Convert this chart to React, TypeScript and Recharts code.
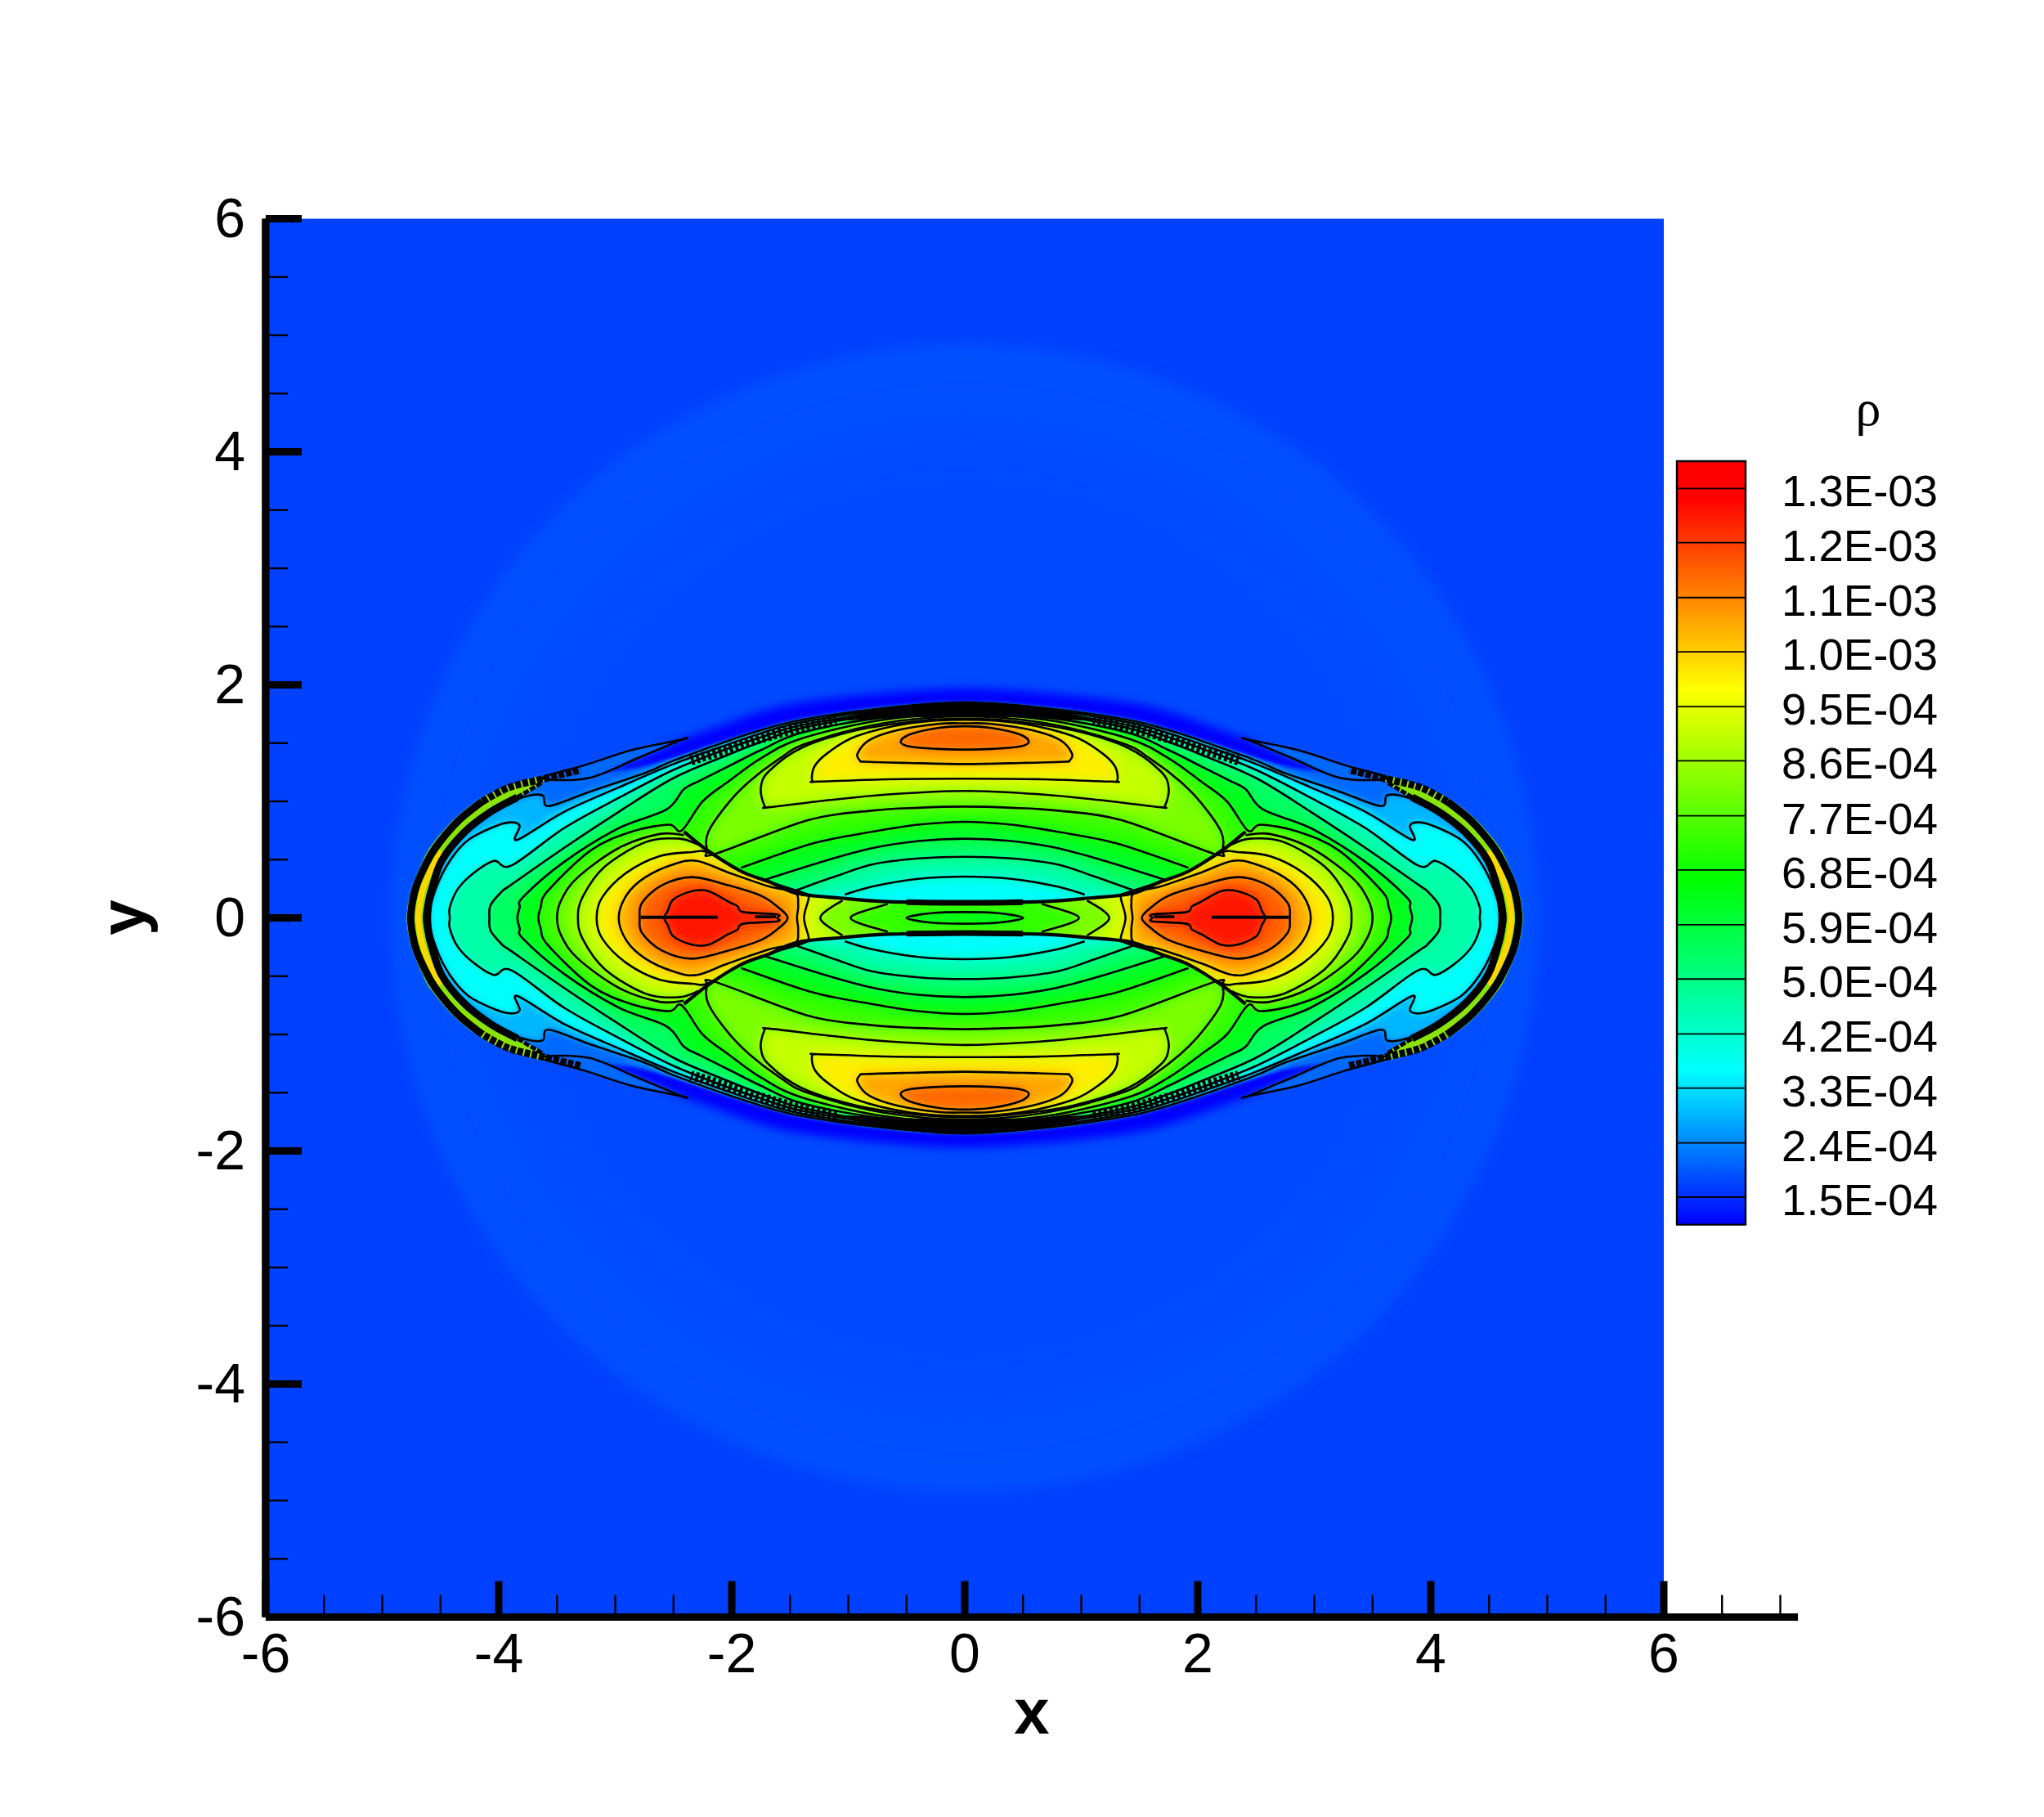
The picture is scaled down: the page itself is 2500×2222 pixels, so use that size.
import React from 'react';
import { ComposedChart, Scatter, XAxis, YAxis, Label, Bar, ReferenceLine } from 'recharts';

type Pt = { x: number; y: number };
type Q = number[][];

// ---- density, in units of 1e-4 ----
const legendLevels = [13.0, 12.12, 11.23, 10.35, 9.46, 8.58, 7.69, 6.81, 5.92, 5.04, 4.15, 3.27, 2.38, 1.5];
const legendLabels = ['1.3E-03', '1.2E-03', '1.1E-03', '1.0E-03', '9.5E-04', '8.6E-04', '7.7E-04', '6.8E-04', '5.9E-04', '5.0E-04', '4.2E-04', '3.3E-04', '2.4E-04', '1.5E-04'];
const legendRange = [1.054, 13.443];

const xTicks = [-6, -5.5, -5, -4.5, -4, -3.5, -3, -2.5, -2, -1.5, -1, -0.5, 0, 0.5, 1, 1.5, 2, 2.5, 3, 3.5, 4, 4.5, 5, 5.5, 6, 6.5, 7];
const yTicks = [-6, -5.5, -5, -4.5, -4, -3.5, -3, -2.5, -2, -1.5, -1, -0.5, 0, 0.5, 1, 1.5, 2, 2.5, 3, 3.5, 4, 4.5, 5, 5.5, 6];
const majorTicks = [-6, -4, -2, 0, 2, 4, 6];

// ---- field outlines: upper-left quadrant, the flow is symmetric about both axes ----
const frame: Q = [[-6, -6], [-6, 6], [6, 6], [6, -6]];
const xSpine: Q = [[-6, -6], [7.151, -6]];
const ySpine: Q = [[-6, -6], [-6, 6]];
const farRing: Q = [[-4.93, 0], [-4.55, 1.89], [-3.49, 3.49], [-1.89, 4.55], [0, 4.93]];
const midRing: Q = [[-4.2, 0], [-3.88, 1.61], [-2.97, 2.97], [-1.61, 3.88], [0, 4.2]];
const halo: Q = [[-3.1, 1.2], [-2.81, 1.36], [-2.46, 1.52], [-2.1, 1.65], [-1.75, 1.77], [-1.4, 1.85], [-0.7, 1.93], [0, 1.97], [0.7, 1.93], [1.4, 1.85], [1.75, 1.77], [2.1, 1.65], [2.46, 1.52], [2.81, 1.36], [3.1, 1.2], [0, 1.3]];
const outer: Q = [[-4.79, 0], [-4.775, 0.14], [-4.74, 0.28], [-4.67, 0.45], [-4.58, 0.62], [-4.37, 0.86], [-4.14, 1.035], [-3.91, 1.14], [-3.63, 1.22], [-3.25, 1.24], [-2.81, 1.29], [-2.46, 1.39], [-2.1, 1.51], [-1.75, 1.62], [-1.4, 1.71], [-0.7, 1.81], [0, 1.856]];
const wingShape: Q = [[-3.63, 1.2], [-3.25, 1.315], [-2.86, 1.44], [-2.43, 1.53], [-2.43, 1.53], [-2.81, 1.37], [-3.23, 1.2]];
const shellBand: Q = [[-4.79, 0], [-4.775, 0.14], [-4.74, 0.28], [-4.67, 0.45], [-4.58, 0.62], [-4.37, 0.86], [-4.14, 1.035], [-3.91, 1.14], [-3.63, 1.22], [-3.63, 1.15], [-3.84, 1.03], [-4.07, 0.9], [-4.3, 0.72], [-4.49, 0.48], [-4.58, 0.23], [-4.62, 0]];
const shellYellow: Q = [[-4.69, 0], [-4.675, 0.14], [-4.64, 0.28], [-4.57, 0.44], [-4.49, 0.57]];

const base24: Q = [[-4.59, 0], [-4.57, 0.19], [-4.53, 0.38], [-4.45, 0.54], [-4.3, 0.72], [-4.07, 0.9], [-3.84, 1.02], [-3.63, 1.055], [-3.57, 0.96], [-3.2, 1.09], [-2.74, 1.245], [-2.5, 1.35], [-2.03, 1.52], [-1.75, 1.61], [-1.4, 1.7], [-0.7, 1.8], [0, 1.85]];
const base33: Q = [[-4.6, 0], [-4.54, 0.25], [-4.42, 0.49], [-4.26, 0.67], [-4.02, 0.79], [-3.89, 0.82], [-3.82, 0.79], [-3.84, 0.67], [-3.44, 0.91], [-2.97, 1.12], [-2.5, 1.32], [-2.03, 1.49], [-1.75, 1.585], [-1.4, 1.68], [-0.7, 1.785], [0, 1.84]];
const base42: Q = [[-4.42, 0], [-4.42, 0.09], [-4.35, 0.25], [-4.21, 0.39], [-4.04, 0.49], [-3.89, 0.45], [-3.44, 0.77], [-2.97, 1.03], [-2.5, 1.27], [-2.03, 1.455], [-1.75, 1.55], [-1.4, 1.655], [-0.7, 1.765], [0, 1.825]];
const base50: Q = [[-4.08, 0], [-4.07, 0.11], [-3.97, 0.23], [-3.9, 0.28], [-3.44, 0.6], [-2.97, 0.91], [-2.5, 1.2], [-2.03, 1.4], [-1.75, 1.51], [-1.4, 1.63], [-0.7, 1.75], [0, 1.81]];
const base59: Q = [[-3.84, 0], [-3.82, 0.09], [-3.79, 0.18], [-3.44, 0.48], [-2.97, 0.77], [-2.56, 0.93], [-2.41, 1.105], [-2.27, 1.18], [-2.03, 1.3], [-1.75, 1.44], [-1.4, 1.59], [-0.7, 1.72], [0, 1.77]];
const base68: Q = [[-3.66, 0], [-3.64, 0.09], [-3.58, 0.23], [-3.21, 0.58], [-2.86, 0.74], [-2.54, 0.8], [-2.43, 0.75], [-2.25, 1.0], [-2.03, 1.17], [-1.75, 1.37], [-1.4, 1.54], [-0.7, 1.7], [0, 1.75]];

// upper cap: left half of each contour, from x=0 below round to x=0 above
const cap77: Q = [[0, 0.955], [-0.4, 0.945], [-0.8, 0.92], [-1.34, 0.84], [-2.14, 0.55], [-2.21, 0.58], [-2.2, 0.74], [-2.03, 0.985], [-1.85, 1.17], [-1.6, 1.36], [-1.35, 1.5], [-0.7, 1.67], [0, 1.73]];
const cap86: Q = [[0, 1.09], [-0.66, 1.06], [-1.17, 1.01], [-1.68, 0.95], [-1.72, 0.965], [-1.75, 1.12], [-1.68, 1.26], [-1.4, 1.46], [-0.93, 1.61], [-0.4, 1.69], [0, 1.71]];
const cap95: Q = [[0, 1.195], [-0.66, 1.19], [-1.26, 1.17], [-1.31, 1.18], [-1.29, 1.3], [-1.17, 1.42], [-0.93, 1.56], [-0.47, 1.67], [0, 1.7]];
const cap104: Q = [[0, 1.32], [-0.49, 1.33], [-0.85, 1.34], [-0.9, 1.35], [-0.92, 1.41], [-0.82, 1.525], [-0.58, 1.61], [-0.23, 1.665], [0, 1.67]];
const cap112: Q = [[0, 1.445], [-0.23, 1.45], [-0.47, 1.47], [-0.55, 1.51], [-0.47, 1.575], [-0.23, 1.63], [0, 1.645]];

// low-density bowl above the central slit: left half, from shock to x=0
const bowl68: Q = [[-1.92, 0.43], [-1.3, 0.64], [-0.79, 0.74], [-0.4, 0.8], [0, 0.825]];
const bowl59: Q = [[-1.71, 0.33], [-1.2, 0.49], [-0.79, 0.6], [-0.4, 0.66], [0, 0.68]];
const bowl50: Q = [[-1.44, 0.24], [-1.1, 0.36], [-0.79, 0.46], [-0.4, 0.51], [0, 0.525]];
const bowl42: Q = [[-1.03, 0.2], [-0.79, 0.27], [-0.4, 0.335], [0, 0.354]];

const shock: Q = [[-2.41, 0.74], [-2.21, 0.58], [-1.92, 0.4], [-1.68, 0.31], [-1.44, 0.21], [-1.07, 0.17], [-0.66, 0.14], [0, 0.13]];
const shockCore: Q = [[-0.5, 0.135], [0, 0.13], [0.5, 0.135]];

// lobe on the x axis: upper half of each contour
const lobe77: Q = [[-3.5, 0], [-3.46, 0.16], [-3.32, 0.35], [-2.97, 0.6], [-2.62, 0.72], [-2.41, 0.71]];
const lobe86: Q = [[-3.32, 0], [-3.28, 0.18], [-3.09, 0.44], [-2.74, 0.65], [-2.45, 0.68], [-2.29, 0.63]];
const lobe95: Q = [[-3.16, 0], [-3.11, 0.18], [-2.9, 0.39], [-2.62, 0.53], [-2.34, 0.565], [-2.2, 0.56], [-1.92, 0.4], [-1.68, 0.31], [-1.37, 0.21], [-1.34, 0.17], [-1.38, 0]];
const lobe104: Q = [[-2.97, 0], [-2.9, 0.2], [-2.74, 0.35], [-2.5, 0.46], [-2.3, 0.49], [-2.03, 0.39], [-1.68, 0.27], [-1.46, 0.22], [-1.43, 0.11], [-1.44, 0]];
const lobe112: Q = [[-2.79, 0], [-2.77, 0.13], [-2.6, 0.28], [-2.34, 0.35], [-2.03, 0.28], [-1.75, 0.19], [-1.6, 0.09], [-1.52, 0]];
const lobe121: Q = [[-2.58, 0], [-2.55, 0.06], [-2.5, 0.16], [-2.34, 0.23], [-2.2, 0.23], [-2.03, 0.14], [-1.95, 0.1], [-1.9, 0.05], [-1.61, 0.03], [-1.61, 0]];
const lobeTail: Q = [[-2.21, 0.58], [-1.9, 0.3], [-1.7, 0]];
const lobeSlit: Q = [[-2.78, 0.005], [-2.12, 0.005]];
const lobeSlitTip: Q = [[-1.8, 0.01], [-1.62, 0.01]];

// central lens between the two shocks
const lensBase: Q = [[-1.8, 0], [-1.8, 0.6], [0, 0.6]];
const lens86: Q = [[-1.24, 0], [-1.05, 0.15]];
const lens77: Q = [[-0.98, 0], [-0.66, 0.12]];
const lens68: Q = [[-0.5, 0], [-0.29, 0.04], [0, 0.05]];
const lensCover: Q = [[-0.5, 0.3], [0, 0.3]];

// bow shock outline, hatch and the trailing wing
const shellOuter: Q = [[-4.755, 0], [-4.74, 0.14], [-4.705, 0.28], [-4.635, 0.44], [-4.545, 0.6], [-4.35, 0.83], [-4.14, 1.0]];
const shellInner: Q = [[-4.62, 0], [-4.605, 0.12], [-4.58, 0.23], [-4.49, 0.49], [-4.3, 0.73], [-4.07, 0.91], [-3.84, 1.035]];
const shellHatch: Q = [[-4.14, 1.0], [-3.91, 1.12], [-3.63, 1.19], [-3.3, 1.27]];
const shellInnerTail: Q = [[-3.84, 1.035], [-3.63, 1.16]];
const topHatch: Q = [[-2.35, 1.35], [-2.03, 1.45], [-1.75, 1.54], [-1.4, 1.635], [-1.1, 1.69]];
const crest: Q = [[-1.1, 1.7], [-0.5, 1.72], [0, 1.725], [0.5, 1.72], [1.1, 1.7], [0.5, 1.825], [0, 1.84], [-0.5, 1.825]];
const clipMiddleEdge: Q = [[-5, 0], [-5, 1.0], [-2.7, 1.0]];
const clipCapEdge: Q = [[-2.25, 1.0], [-2.03, 1.17], [-1.75, 1.37], [-1.4, 1.56], [-0.7, 1.78], [0, 1.87]];

// ---- helpers ----
const mx = (q: Q): Q => q.map(([x, y]) => [-x, y]);
const fx = (q: Q): Q => mx(q).reverse();
const fy = (q: Q): Q => q.map(([x, y]) => [x, -y]).reverse();
const half = (q: Q): Q => [...q, ...fx(q).filter((p) => Math.abs(p[0]) > 1e-6)];
const loop = (q: Q): Q => {
  const top = half(q);
  return [...top, ...fy(top).filter((p) => Math.abs(p[1]) > 1e-6)];
};
const lobeClosed = (q: Q): Q => [...q, ...fy(q).filter((p) => Math.abs(p[1]) > 1e-6)];
const through = (q: Q): Q => [...fy(q), ...q.slice(1)];
const four = (q: Q): Q[] => [q, mx(q), fy(q), mx(fy(q))];
const toPts = (q: Q): Pt[] => q.map(([x, y]) => ({ x, y }));

const rainbow = (v: number) => {
  const stops: [number, number[]][] = [[1.06, [0, 0, 255]], [3.55, [0, 255, 255]], [6.67, [0, 255, 0]], [9.76, [255, 255, 0]], [12.86, [255, 0, 0]]];
  if (v <= stops[0][0]) return 'rgb(0,0,255)';
  for (let i = 1; i < stops.length; i++) {
    if (v <= stops[i][0]) {
      const t = (v - stops[i - 1][0]) / (stops[i][0] - stops[i - 1][0]);
      const c = stops[i - 1][1].map((a, k) => Math.round(a + (stops[i][1][k] - a) * t));
      return `rgb(${c.join(',')})`;
    }
  }
  return 'rgb(255,0,0)';
};

const smoothPath = (p: { x: number; y: number }[], closed: boolean, smooth = true) => {
  const n = p.length;
  if (!smooth) return `M${p.map((a) => `${a.x},${a.y}`).join('L')}${closed ? 'Z' : ''}`;
  const at = (i: number) => (closed ? p[(i + n) % n] : p[Math.max(0, Math.min(n - 1, i))]);
  let d = `M${p[0].x},${p[0].y}`;
  const last = closed ? n : n - 1;
  for (let i = 0; i < last; i++) {
    const a = at(i - 1), b = at(i), c = at(i + 1), e = at(i + 2);
    d += `C${b.x + (c.x - a.x) / 6},${b.y + (c.y - a.y) / 6} ${c.x - (e.x - b.x) / 6},${c.y - (e.y - b.y) / 6} ${c.x},${c.y}`;
  }
  return closed ? d + 'Z' : d;
};

type FillSpec = { q: Q; color: string; blur?: number; clip?: string; smooth?: boolean };
type LineSpec = { q: Q; width: number; closed?: boolean; color?: string; dash?: string };
type ClipSpec = { q: Q; id: string };

const fills: FillSpec[] = [];
const lines: LineSpec[] = [];
const addFill = (q: Q, v: number, blur: number, clip?: string) => fills.push({ q, color: rainbow(v), blur, clip });

fills.push({ q: frame, color: 'rgb(0,64,255)', smooth: false });
fills.push({ q: loop(farRing), color: 'rgb(0,80,255)', blur: 8 });
fills.push({ q: loop(midRing), color: 'rgb(0,74,255)', blur: 30 });
fills.push({ q: halo, color: 'rgb(0,5,255)', blur: 6 });
fills.push({ q: fy(halo), color: 'rgb(0,5,255)', blur: 6 });

for (const s of four(wingShape)) fills.push({ q: s, color: 'rgb(0,105,255)', blur: 2 });
fills.push({ q: loop(outer), color: 'rgb(0,105,255)', blur: 2 });
for (const s of four(shellBand)) fills.push({ q: s, color: 'rgb(140,230,0)', clip: 'clipOuter' });
const baseBands: [Q, number][] = [[base24, 2.85], [base33, 3.6], [base42, 4.6], [base50, 5.5], [base59, 6.35], [base68, 7.25]];
for (const [q, v] of baseBands) addFill(loop(q), v, 4, 'clipOuter');

const capBands: [Q, number, number][] = [[cap77, 8.15, 8], [cap86, 9.05, 8], [cap95, 9.95, 8], [cap104, 10.85, 7], [cap112, 11.6, 6]];
const bowlBands: [Q, number][] = [[bowl68, 6.35], [bowl59, 5.5], [bowl50, 4.6], [bowl42, 3.6]];
for (const [side, clip] of [[(q: Q) => q, 'clipCap'], [fy, 'clipCup']] as [(q: Q) => Q, string][]) {
  for (const [q, v, b] of capBands) addFill(side(half(q)), v, b, clip);
  for (const [q, v] of bowlBands) addFill(side([[-2.6, 0], ...half(q), [2.6, 0]]), v, 8, clip);
}

const middle = 'clipMiddle';
addFill(loop(lensBase), 9.1, 5, middle);
for (const side of [(q: Q) => q, fx]) {
  const lobeBands: [Q, number][] = [[lobe77, 8.15], [lobe86, 9.05]];
  for (const [q, v] of lobeBands) addFill(side(lobeClosed([...q, ...lobeTail])), v, 8, middle);
}
addFill(loop([...lens86, ...lensCover]), 8.15, 5, middle);
addFill(loop([...lens77, ...lensCover]), 7.25, 5, middle);
addFill(loop(lens68), 6.45, 3, middle);
for (const side of [(q: Q) => q, fx]) {
  const lobeBands: [Q, number, number][] = [[lobe95, 9.95, 8], [lobe104, 10.85, 8], [lobe112, 11.75, 8], [lobe121, 12.55, 6]];
  for (const [q, v, b] of lobeBands) addFill(side(lobeClosed(q)), v, b, middle);
}

const thin = 2.6;
for (const q of [base24, base33, base42, base50, base59, base68]) lines.push({ q: loop(q), width: thin, closed: true });
for (const q of [cap77, cap86, cap95, cap104, cap112]) {
  lines.push({ q: half(q), width: thin, closed: true });
  lines.push({ q: fy(half(q)), width: thin, closed: true });
}
for (const q of [bowl68, bowl59, bowl50, bowl42]) {
  lines.push({ q: half(q), width: thin });
  lines.push({ q: fy(half(q)), width: thin });
}
for (const q of [lobe95, lobe104, lobe112, lobe121]) {
  lines.push({ q: lobeClosed(q), width: thin, closed: true });
  lines.push({ q: fx(lobeClosed(q)), width: thin, closed: true });
}
for (const q of [lobe77, lobe86, lens86, lens77]) {
  lines.push({ q: through(q), width: thin });
  lines.push({ q: mx(through(q)), width: thin });
}
lines.push({ q: loop(lens68), width: thin, closed: true });
for (const s of [lobeSlit, mx(lobeSlit)]) lines.push({ q: s, width: 4 });
for (const s of [lobeSlitTip, mx(lobeSlitTip)]) lines.push({ q: s, width: 3.5 });
for (const s of four(shock)) lines.push({ q: s, width: 4.2 });
for (const s of [shockCore, fy(shockCore)]) lines.push({ q: s, width: 7 });
for (const s of [through(shellYellow), mx(through(shellYellow))]) lines.push({ q: s, width: 7, color: 'rgb(255,215,0)' });
for (const s of [through(shellOuter), mx(through(shellOuter))]) lines.push({ q: s, width: 9 });
for (const s of [through(shellInner), mx(through(shellInner))]) lines.push({ q: s, width: 9 });
for (const s of four(shellInnerTail)) lines.push({ q: s, width: 5, dash: '7 2' });
for (const s of four(shellHatch)) lines.push({ q: s, width: 9, dash: '7 2' });
for (const s of four(topHatch)) lines.push({ q: s, width: 12, dash: '4 3' });
for (const s of four(wingShape)) lines.push({ q: s, width: 2.5, closed: true });

const capClip: Q = [...half([shock[0], ...clipCapEdge]), ...mx(shock).slice(1), ...[...shock].reverse().slice(1, -1)];
const clips: ClipSpec[] = [
  { q: loop(outer), id: 'clipOuter' },
  { q: capClip, id: 'clipCap' },
  { q: fy(capClip), id: 'clipCup' },
  { q: loop([...clipMiddleEdge, ...shock]), id: 'clipMiddle' },
];

const noMark = () => <g />;
const fillLine = (s: FillSpec) => (props: any) => {
  const d = smoothPath(props.points, true, s.smooth !== false);
  const path = <path d={d} fill={s.color} stroke="none" filter={s.blur ? `url(#blur${s.blur})` : undefined} />;
  return s.clip ? <g clipPath={`url(#${s.clip})`}>{path}</g> : path;
};
const strokeLine = (s: LineSpec) => (props: any) => (
  <path d={smoothPath(props.points, !!s.closed)} fill="none" stroke={s.color ?? '#000'} strokeWidth={s.width} strokeLinejoin="round" strokeDasharray={s.dash} />
);
const clipLine = (s: ClipSpec) => (props: any) => (
  <defs>
    <clipPath id={s.id}>
      <path d={smoothPath(props.points, true)} />
    </clipPath>
  </defs>
);

const SANS = '"Liberation Sans", Arial, sans-serif';

const XTick = (props: any) => {
  const { x, y, payload } = props;
  const major = majorTicks.includes(payload.value);
  return (
    <g>
      <line x1={x} x2={x} y1={y} y2={y - (major ? 44 : 27)} stroke="#000" strokeWidth={major ? 9 : 2.4} />
      {major ? (
        <text x={x} y={y + 67.5} textAnchor="middle" fontFamily={SANS} fontSize={68} fill="#000">{payload.value}</text>
      ) : null}
    </g>
  );
};
const YTick = (props: any) => {
  const { x, y, payload } = props;
  const major = majorTicks.includes(payload.value);
  return (
    <g>
      <line x1={x} x2={x + (major ? 44 : 27)} y1={y} y2={y} stroke="#000" strokeWidth={major ? 9 : 2.4} />
      {major ? (
        <text x={x - 25} y={y + 22.5} textAnchor="end" fontFamily={SANS} fontSize={68} fill="#000">{payload.value}</text>
      ) : null}
    </g>
  );
};
const LegendTick = (props: any) => {
  const { x, y, payload } = props;
  const label = legendLabels[legendLevels.indexOf(payload.value)];
  return (
    <text x={x + 235} y={y + 22} textAnchor="end" fontFamily={SANS} fontSize={54.5} fill="#000">{label}</text>
  );
};

const legendData = [{ name: 'rho', range: legendRange }];

export default function App() {
  return (
    <div style={{ position: 'absolute', left: 0, top: 0, width: 2500, height: 2222, background: '#fff', overflow: 'hidden' }}>
      <ComposedChart
        width={2500}
        height={2222}
        margin={{ left: 225, top: 267.5, right: 301, bottom: 144.5 }}
        style={{ position: 'absolute', left: 0, top: 0 }}
      >
        <defs>
          {[2, 3, 4, 5, 6, 7, 8, 30].map((b) => (
            <filter key={b} id={`blur${b}`} x="-30%" y="-30%" width="160%" height="160%">
              <feGaussianBlur stdDeviation={b} />
            </filter>
          ))}
        </defs>
        {clips.map((s) => (
          <Scatter key={s.id} data={toPts(s.q)} dataKey="y" isAnimationActive={false} shape={noMark} line={clipLine(s)} />
        ))}
        {fills.map((s, i) => (
          <Scatter key={`f${i}`} data={toPts(s.q)} dataKey="y" isAnimationActive={false} shape={noMark} line={fillLine(s)} />
        ))}
        {lines.map((s, i) => (
          <Scatter key={`l${i}`} data={toPts(s.q)} dataKey="y" isAnimationActive={false} shape={noMark} line={strokeLine(s)} />
        ))}
        <Scatter data={toPts(crest)} dataKey="y" isAnimationActive={false} shape={noMark} line={fillLine({ q: crest, color: '#000' })} />
        <Scatter data={toPts(fy(crest))} dataKey="y" isAnimationActive={false} shape={noMark} line={fillLine({ q: crest, color: '#000' })} />
        <Scatter data={toPts(xSpine)} dataKey="y" isAnimationActive={false} shape={noMark} line={strokeLine({ q: xSpine, width: 9 })} />
        <Scatter data={toPts(ySpine)} dataKey="y" isAnimationActive={false} shape={noMark} line={strokeLine({ q: ySpine, width: 9 })} />
        <XAxis
          type="number"
          dataKey="x"
          domain={[-6, 7.151]}
          ticks={xTicks}
          interval={0}
          height={100}
          tickSize={0}
          tickMargin={0}
          tickLine={false}
          tick={XTick}
          axisLine={{ stroke: '#000', strokeWidth: 9 }}
        >
          <Label content={() => <text x={1262} y={2120} textAnchor="middle" fontFamily={SANS} fontWeight="bold" fontSize={78} fill="#000">x</text>} />
        </XAxis>
        <YAxis
          type="number"
          dataKey="y"
          domain={[-6, 6]}
          ticks={yTicks}
          interval={0}
          width={100}
          tickSize={0}
          tickMargin={0}
          tickLine={false}
          tick={YTick}
          axisLine={{ stroke: '#000', strokeWidth: 9 }}
        >
          <Label content={() => <text transform="translate(177,1122) rotate(-90)" textAnchor="middle" fontFamily={SANS} fontWeight="bold" fontSize={78} fill="#000">y</text>} />
        </YAxis>
      </ComposedChart>
      <ComposedChart
        width={480}
        height={1200}
        data={legendData}
        barCategoryGap={0}
        margin={{ left: 51, top: 194, right: 0, bottom: 72.4 }}
        style={{ position: 'absolute', left: 2000, top: 370 }}
      >
        <defs>
          <linearGradient id="legendFill" x1="0" y1="0" x2="0" y2="1">
            <stop offset="0%" stopColor="#ff0000" />
            <stop offset="4.8%" stopColor="#ff0000" />
            <stop offset="29.8%" stopColor="#ffff00" />
            <stop offset="54.8%" stopColor="#00ff00" />
            <stop offset="79.8%" stopColor="#00ffff" />
            <stop offset="100%" stopColor="#0000ff" />
          </linearGradient>
        </defs>
        <XAxis dataKey="name" hide />
        <YAxis
          orientation="right"
          type="number"
          domain={legendRange}
          ticks={legendLevels}
          interval={0}
          width={345}
          tickSize={0}
          tickMargin={0}
          tickLine={false}
          axisLine={false}
          tick={LegendTick}
        >
          <Label content={() => <text x={285} y={150} textAnchor="middle" fontFamily='"Liberation Serif", serif' fontSize={62} fill="#000">ρ</text>} />
        </YAxis>
        <Bar dataKey="range" fill="url(#legendFill)" stroke="#000" strokeWidth={2.4} isAnimationActive={false} />
        {legendLevels.map((v) => (
          <ReferenceLine key={v} y={v} stroke="#000" strokeWidth={1.8} />
        ))}
      </ComposedChart>
    </div>
  );
}
